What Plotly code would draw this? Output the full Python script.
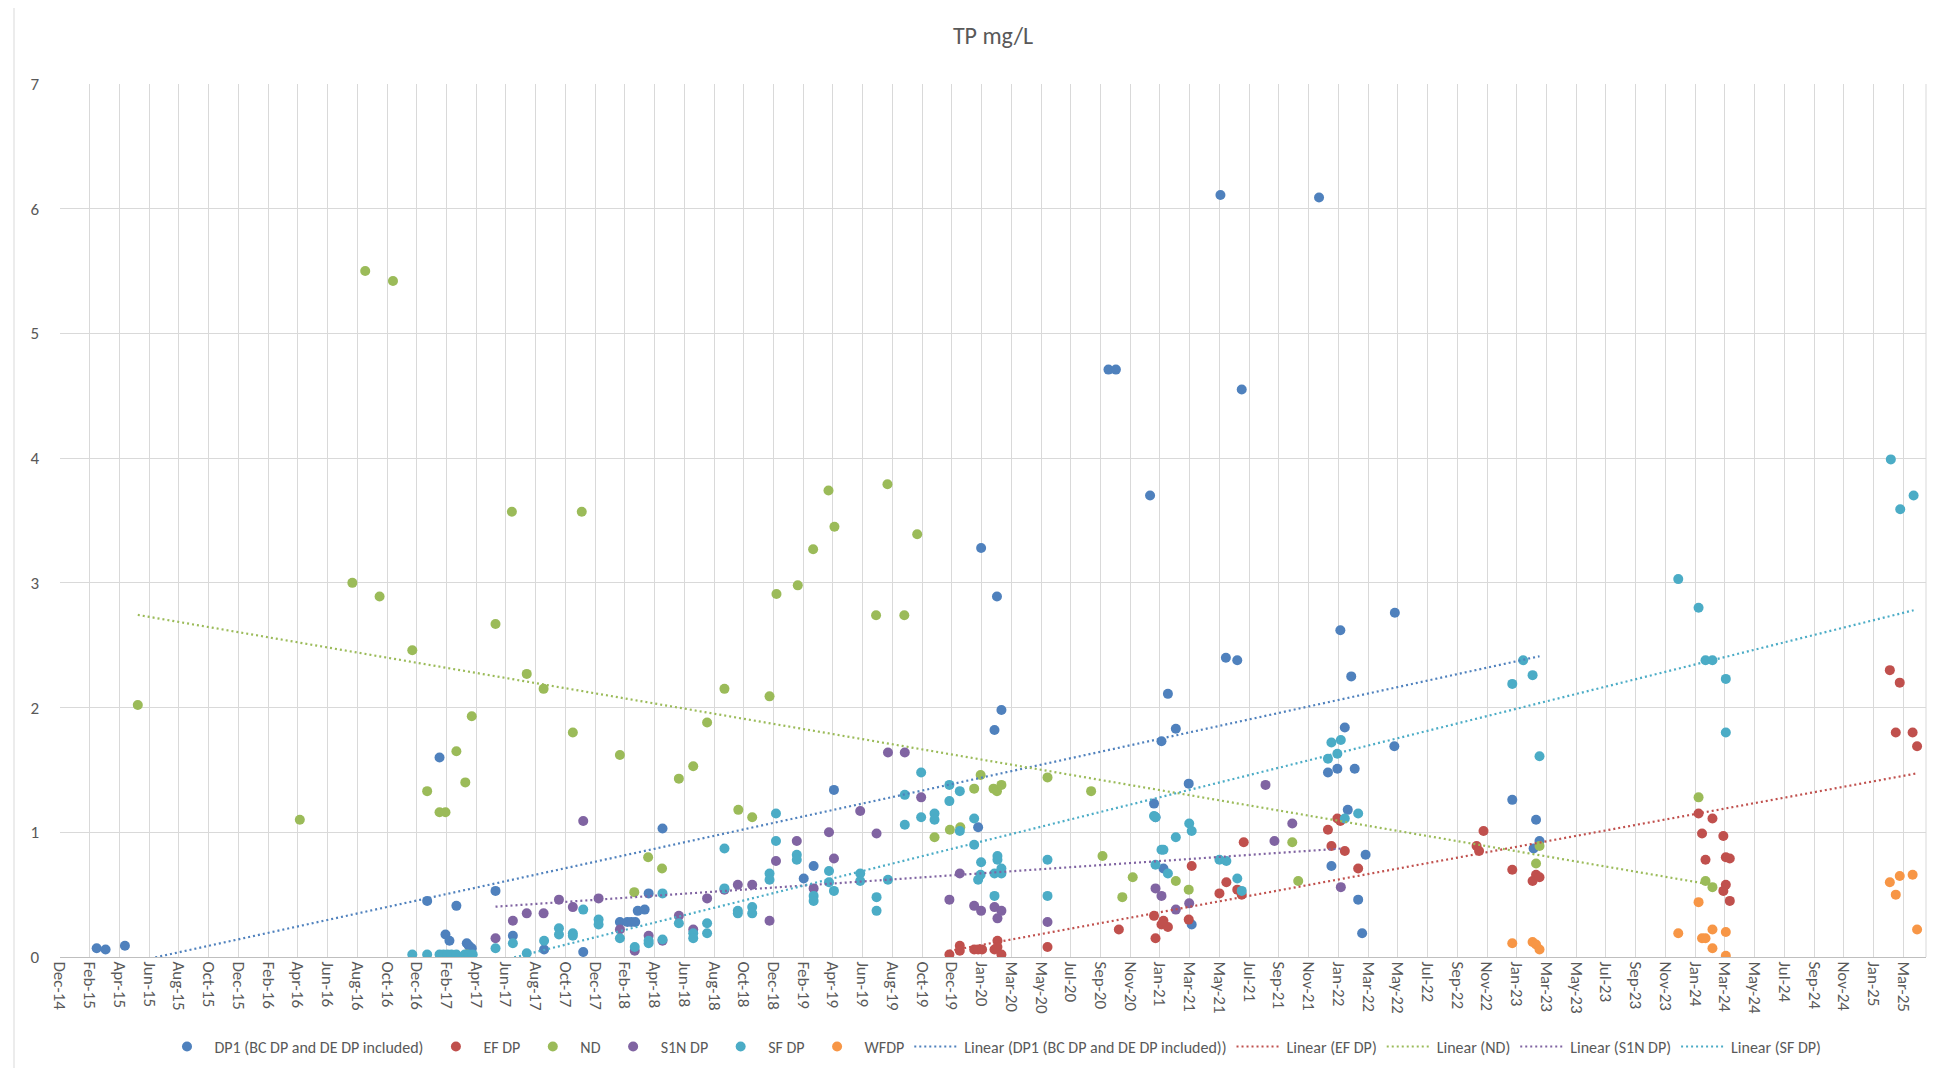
import numpy as np
import pandas as pd
import plotly.graph_objects as go

# ---------------- data ----------------
dp1_dates = ["2015-03-12","2015-03-30","2015-05-08","2017-01-07","2017-02-01","2017-02-13","2017-02-21",
             "2017-03-07","2017-03-28","2017-04-01","2017-04-07","2017-05-25","2017-06-29","2017-08-31",
             "2017-11-18","2018-01-31","2018-02-15","2018-02-23","2018-03-03","2018-03-08","2018-03-22",
             "2018-03-30","2018-04-27","2019-02-06","2019-02-26","2019-04-08","2020-01-24","2020-01-30",
             "2020-02-26","2020-03-02","2020-03-11","2020-10-13","2020-10-28","2021-01-05","2021-01-13",
             "2021-01-16","2021-01-28","2021-02-01","2021-02-10","2021-02-26","2021-03-24","2021-03-30",
             "2021-05-27","2021-06-07","2021-06-30","2021-07-09","2021-12-12","2021-12-30","2022-01-06",
             "2022-01-18","2022-01-24","2022-02-02","2022-02-08","2022-02-15","2022-02-22","2022-03-01",
             "2022-03-09","2022-03-16","2022-05-13","2022-05-14","2023-01-06","2023-02-18","2023-02-23",
             "2023-03-02"]
dp1_values = [0.07,0.06,0.09,0.45,1.60,0.18,0.13,
              0.41,0.11,0.09,0.07,0.53,0.17,0.06,
              0.04,0.28,0.28,0.28,0.28,0.37,0.38,
              0.51,1.03,0.63,0.73,1.34,1.04,3.28,
              1.82,2.89,1.98,4.71,4.71,3.70,1.23,
              1.12,1.73,0.71,2.11,1.83,1.39,0.26,
              6.11,2.40,2.38,4.55,6.09,1.48,0.73,
              1.51,2.62,1.84,1.18,2.25,1.51,0.46,
              0.19,0.82,1.69,2.76,1.26,0.87,1.10,
              0.93]

ef_dates = ["2019-11-27","2019-12-18","2019-12-18","2020-01-16","2020-01-24","2020-02-01","2020-02-26",
            "2020-03-03","2020-03-03","2020-03-11","2020-06-12","2020-11-03","2021-01-13","2021-01-16",
            "2021-01-28","2021-02-01","2021-02-10","2021-03-24","2021-03-30","2021-05-25","2021-06-08",
            "2021-06-30","2021-07-09","2021-07-13","2021-12-30","2022-01-06","2022-01-18","2022-01-24",
            "2022-02-02","2022-03-01","2022-10-26","2022-10-31","2022-11-09","2023-01-06","2023-02-16",
            "2023-02-23","2023-03-02","2024-01-17","2024-01-24","2024-01-31","2024-02-14","2024-03-07",
            "2024-03-07","2024-03-12","2024-03-12","2024-03-20","2024-03-20","2025-02-06","2025-02-18",
            "2025-02-26","2025-03-24","2025-04-02"]
ef_values = [0.02,0.09,0.05,0.06,0.06,0.06,0.06,
             0.13,0.08,0.02,0.08,0.22,0.33,0.15,
             0.26,0.29,0.24,0.30,0.73,0.51,0.60,
             0.54,0.50,0.92,1.02,0.89,1.11,1.09,
             0.85,0.71,0.89,0.85,1.01,0.70,0.61,
             0.66,0.64,1.15,0.99,0.78,1.11,0.97,
             0.53,0.80,0.58,0.79,0.45,2.30,1.80,
             2.20,1.80,1.69]

nd_dates = ["2015-06-03","2016-04-25","2016-08-09","2016-09-04","2016-10-03","2016-10-30","2016-12-08",
            "2017-01-07","2017-02-01","2017-02-13","2017-03-07","2017-03-25","2017-03-28","2017-04-07",
            "2017-05-25","2017-06-27","2017-07-27","2017-08-30","2017-10-28","2017-11-15","2018-01-31",
            "2018-03-01","2018-03-29","2018-04-26","2018-05-30","2018-06-28","2018-07-26","2018-08-30",
            "2018-09-27","2018-10-25","2018-11-29","2018-12-13","2019-01-25","2019-02-25","2019-03-28",
            "2019-04-09","2019-07-02","2019-07-25","2019-08-28","2019-09-23","2019-10-28","2019-11-28",
            "2019-12-19","2020-01-16","2020-01-29","2020-02-24","2020-03-02","2020-03-11","2020-06-12",
            "2020-09-08","2020-10-01","2020-11-10","2020-12-01","2021-02-26","2021-03-24","2021-10-19",
            "2021-10-31","2023-02-23","2023-03-02","2024-01-17","2024-01-31","2024-02-14"]
nd_values = [2.02,1.10,3.00,5.50,2.89,5.42,2.46,
             1.33,1.16,1.16,1.65,1.40,0.02,1.93,
             2.67,3.57,2.27,2.15,1.80,3.57,1.62,
             0.52,0.80,0.71,1.43,1.53,1.88,2.15,
             1.18,1.12,2.09,2.91,2.98,3.27,3.74,
             3.45,2.74,3.79,2.74,3.39,0.96,1.02,
             1.04,1.35,1.46,1.35,1.33,1.38,1.44,
             1.33,0.81,0.48,0.64,0.61,0.54,0.92,
             0.61,0.75,0.89,1.28,0.61,0.56]

s1n_dates = ["2017-05-25","2017-06-29","2017-07-27","2017-08-30","2017-09-30","2017-10-28","2017-11-18",
             "2017-12-19","2018-01-31","2018-03-02","2018-03-30","2018-04-27","2018-05-30","2018-06-28",
             "2018-07-26","2018-08-30","2018-09-26","2018-10-25","2018-11-29","2018-12-12","2019-01-23",
             "2019-02-26","2019-03-29","2019-04-08","2019-05-31","2019-07-03","2019-07-26","2019-08-29",
             "2019-10-01","2019-11-27","2019-12-18","2020-01-16","2020-01-30","2020-02-26","2020-03-03",
             "2020-03-11","2020-06-12","2021-01-16","2021-01-28","2021-02-26","2021-03-25","2021-08-26",
             "2021-09-13","2021-10-19","2022-01-25"]
s1n_values = [0.15,0.29,0.35,0.35,0.46,0.40,1.09,
              0.47,0.22,0.05,0.17,0.13,0.33,0.22,
              0.47,0.54,0.58,0.58,0.29,0.77,0.93,
              0.55,1.00,0.79,1.17,0.99,1.64,1.64,
              1.28,0.46,0.67,0.41,0.37,0.40,0.31,
              0.37,0.28,0.55,0.49,0.38,0.43,1.38,
              0.93,1.07,0.56]

sf_dates = ["2016-12-08","2017-01-07","2017-02-01","2017-02-09","2017-02-17","2017-02-25","2017-03-07",
            "2017-03-24","2017-04-01","2017-04-09","2017-05-25","2017-06-29","2017-07-27","2017-08-31",
            "2017-09-30","2017-09-30","2017-10-28","2017-10-28","2017-11-18","2017-12-19","2017-12-19",
            "2018-01-31","2018-03-02","2018-03-30","2018-03-30","2018-04-27","2018-04-27","2018-05-30",
            "2018-06-28","2018-06-28","2018-07-26","2018-07-26","2018-08-30","2018-08-30","2018-09-26",
            "2018-09-26","2018-10-25","2018-10-25","2018-11-29","2018-11-29","2018-12-12","2018-12-12",
            "2019-01-23","2019-01-23","2019-02-26","2019-02-26","2019-03-29","2019-03-29","2019-04-08",
            "2019-05-31","2019-05-31","2019-07-03","2019-07-03","2019-07-26","2019-08-29","2019-08-29",
            "2019-10-01","2019-10-01","2019-10-28","2019-10-28","2019-11-27","2019-11-27","2019-12-18",
            "2019-12-18","2020-01-16","2020-01-16","2020-01-24","2020-01-29","2020-01-30","2020-02-26",
            "2020-02-26","2020-03-03","2020-03-03","2020-03-11","2020-03-11","2020-06-12","2020-06-12",
            "2021-01-13","2021-01-16","2021-01-16","2021-01-28","2021-02-01","2021-02-10","2021-02-26",
            "2021-03-25","2021-03-30","2021-05-25","2021-06-08","2021-06-30","2021-07-09","2021-12-30",
            "2022-01-06","2022-01-18","2022-01-25","2022-02-02","2022-03-01","2023-01-06","2023-01-28",
            "2023-02-16","2023-03-02","2023-12-07","2024-01-17","2024-01-31","2024-02-14","2024-03-12",
            "2024-03-12","2025-02-08","2025-02-27","2025-03-26"]
sf_values = [0.02,0.02,0.02,0.02,0.02,0.02,0.02,
             0.02,0.02,0.02,0.07,0.11,0.03,0.13,
             0.23,0.18,0.19,0.17,0.38,0.30,0.26,
             0.15,0.08,0.11,0.13,0.51,0.14,0.27,
             0.19,0.15,0.27,0.19,0.87,0.55,0.37,
             0.35,0.40,0.35,0.67,0.62,1.15,0.93,
             0.82,0.78,0.49,0.45,0.69,0.60,0.53,
             0.67,0.61,0.48,0.37,0.62,1.30,1.06,
             1.48,1.12,1.15,1.10,1.38,1.25,1.33,
             1.01,1.11,0.90,0.62,0.66,0.76,0.49,
             0.67,0.81,0.78,0.71,0.67,0.78,0.49,
             1.13,1.12,0.74,0.86,0.86,0.67,0.96,
             1.07,1.01,0.78,0.77,0.63,0.53,1.59,
             1.72,1.63,1.74,1.11,1.15,2.19,2.38,
             2.26,1.61,3.03,2.80,2.38,2.38,2.23,
             1.80,3.99,3.59,3.70]

wf_dates = ["2023-01-06","2023-02-16","2023-02-23","2023-03-02","2023-12-07","2024-01-17","2024-01-24",
            "2024-01-31","2024-02-14","2024-02-14","2024-03-12","2024-03-12","2025-02-06","2025-02-18",
            "2025-02-26","2025-03-24","2025-04-02"]
wf_values = [0.11,0.12,0.10,0.06,0.19,0.44,0.15,
             0.15,0.22,0.07,0.20,0.01,0.60,0.50,
             0.65,0.66,0.22]

series_names = ["DP1 (BC DP and DE DP included)", "EF DP", "ND", "S1N DP", "SF DP", "WFDP"]
series_colors = ["#4F81BD", "#C0504D", "#9BBB59", "#8064A2", "#4BACC6", "#F79646"]
series_dates = [dp1_dates, ef_dates, nd_dates, s1n_dates, sf_dates, wf_dates]
series_values = [dp1_values, ef_values, nd_values, s1n_values, sf_values, wf_values]
trend_series = [0, 1, 2, 3, 4]   # WFDP has no trendline

# ---------------- figure ----------------
W, H = 1940, 1068
L, R, T, B = 52, 22, 76, 115

fig = go.Figure()
for name, col, ds, vs in zip(series_names, series_colors, series_dates, series_values):
    fig.add_trace(go.Scatter(x=pd.to_datetime(ds), y=vs, mode="markers", name=name,
                             marker=dict(color=col, size=10, line=dict(width=0))))

for i in trend_series:
    d = pd.to_datetime(series_dates[i])
    t = d.values.astype("datetime64[D]").astype(float)
    a, b = np.polyfit(t, np.array(series_values[i], dtype=float), 1)
    tx = np.array([t.min(), t.max()])
    fig.add_trace(go.Scatter(x=[d.min(), d.max()], y=a * tx + b, mode="lines",
                             name="Linear (" + series_names[i] + ")",
                             line=dict(color=series_colors[i], width=2.2, dash="2px,3px")))

font_fam = "Calibri, Carlito, 'Open Sans', Roboto, sans-serif"
fig.update_layout(
    width=W, height=H,
    margin=dict(l=L, r=R, t=T, b=B, pad=0),
    paper_bgcolor="white", plot_bgcolor="white",
    font=dict(family=font_fam, color="#595959", size=15),
    title=dict(text="TP mg/L", x=0.5, xref="paper", xanchor="center", y=1 - 27.5 / H, yanchor="middle",
               font=dict(size=24, color="#595959", family=font_fam)),
    showlegend=True,
    legend=dict(orientation="h", x=0.5, xanchor="center", y=-(1043 - (H - B)) / (H - T - B),
                yanchor="middle", font=dict(size=16, color="#595959"), itemwidth=45,
                bgcolor="rgba(0,0,0,0)"),
    xaxis=dict(type="date", range=["2014-12-28", "2025-04-20"], tick0="2014-12-28",
               dtick=60 * 86400000, tickformat="%b-%y", tickangle=90,
               showgrid=True, gridcolor="#D9D9D9", gridwidth=1,
               showline=True, linecolor="#BFBFBF", linewidth=1, zeroline=False,
               ticks="", tickfont=dict(size=17, color="#595959")),
    yaxis=dict(range=[0, 7], dtick=1, showgrid=True, gridcolor="#D9D9D9", gridwidth=1,
               zeroline=False, showline=False, ticks="", ticklabelstandoff=20,
               tickfont=dict(size=17, color="#595959")),
)

# right edge of plot area and outer chart border
fig.add_shape(type="line", xref="paper", yref="paper", x0=1, x1=1, y0=0, y1=1,
              line=dict(color="#D9D9D9", width=1))
pw, ph = W - L - R, H - T - B
fig.add_shape(type="rect", xref="paper", yref="paper",
              x0=(6 - L) / pw, x1=(1936 - L) / pw, y0=-(H - 2 - (H - B)) / ph, y1=((H - B) + 2) / ph,
              line=dict(color="#D9D9D9", width=1), fillcolor="rgba(0,0,0,0)", layer="below")

fig.write_html("out.html")
